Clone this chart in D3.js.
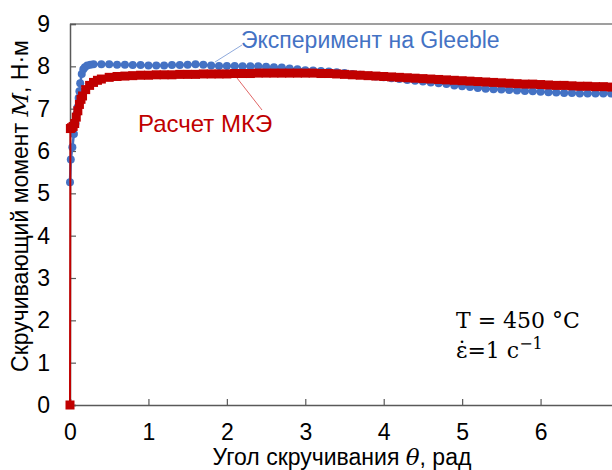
<!DOCTYPE html>
<html>
<head>
<meta charset="utf-8">
<script src="https://cdn.jsdelivr.net/npm/d3@7"></script>
<style>
  html, body { margin: 0; padding: 0; background: #fff; }
  svg { display: block; }
</style>
</head>
<body>
<div id="chart"></div>
<script>
// Torque vs. twist angle: Gleeble experiment and FEM calculation
const expTheta = [0, 0.01, 0.03, 0.05, 0.07, 0.085, 0.095, 0.11, 0.12, 0.13, 0.15, 0.17, 0.19, 0.22, 0.26,
  0.3, 0.4, 0.5, 0.6, 0.7, 0.8, 0.9, 1.0, 1.1, 1.2, 1.3, 1.4, 1.5, 1.6, 1.7, 1.8, 1.9, 2.0,
  2.1, 2.2, 2.3, 2.4, 2.5, 2.6, 2.7, 2.8, 2.9, 3.0, 3.1, 3.2, 3.3, 3.4, 3.5, 3.6, 3.7, 3.8, 3.9, 4.0,
  4.1, 4.2, 4.3, 4.4, 4.5, 4.6, 4.7, 4.8, 4.9, 5.0, 5.1, 5.2, 5.3, 5.4, 5.5, 5.6, 5.7, 5.8, 5.9, 6.0,
  6.1, 6.2, 6.3, 6.4, 6.5, 6.6, 6.7, 6.8, 6.9, 7.0];
const expTorque = [5.26, 5.8, 6.09, 6.4, 6.65, 6.88, 7.03, 7.25, 7.41, 7.6, 7.82, 7.93, 7.98, 8.02, 8.04,
  8.05, 8.05, 8.05, 8.04, 8.04, 8.03, 8.03, 8.02, 8.02, 8.02, 8.03, 8.03, 8.04, 8.05, 8.04, 8.02, 8.01, 8.01,
  8.01, 8.0, 8.0, 8.0, 7.99, 7.98, 7.97, 7.95, 7.93, 7.91, 7.9, 7.89, 7.88, 7.86, 7.84, 7.82, 7.8, 7.78, 7.76, 7.74,
  7.72, 7.7, 7.68, 7.66, 7.64, 7.62, 7.6, 7.58, 7.55, 7.53, 7.51, 7.49, 7.47, 7.46, 7.45, 7.44, 7.43, 7.42, 7.41, 7.4,
  7.39, 7.38, 7.37, 7.37, 7.36, 7.36, 7.36, 7.36, 7.36, 7.36];

const femTheta = [0, 0.005, 0.02, 0.04, 0.06, 0.08, 0.1, 0.12, 0.14, 0.16, 0.2, 0.25, 0.3, 0.35, 0.4,
  0.5, 0.6, 0.7, 0.8, 0.9, 1.0, 1.1, 1.2, 1.3, 1.4, 1.5, 1.6, 1.7, 1.8, 1.9, 2.0,
  2.1, 2.2, 2.3, 2.4, 2.5, 2.6, 2.7, 2.8, 2.9, 3.0, 3.1, 3.2, 3.3, 3.4, 3.5, 3.6, 3.7, 3.8, 3.9, 4.0,
  4.1, 4.2, 4.3, 4.4, 4.5, 4.6, 4.7, 4.8, 4.9, 5.0, 5.1, 5.2, 5.3, 5.4, 5.5, 5.6, 5.7, 5.8, 5.9, 6.0,
  6.1, 6.2, 6.3, 6.4, 6.5, 6.6, 6.7, 6.8, 6.9, 7.0];
const femTorque = [0, 6.53, 6.55, 6.58, 6.65, 6.8, 6.95, 7.1, 7.22, 7.3, 7.45, 7.55, 7.62, 7.67, 7.7,
  7.74, 7.76, 7.77, 7.78, 7.79, 7.79, 7.8, 7.8, 7.8, 7.81, 7.81, 7.81, 7.82, 7.82, 7.82, 7.82,
  7.83, 7.83, 7.83, 7.84, 7.84, 7.84, 7.84, 7.84, 7.84, 7.84, 7.84, 7.83, 7.83, 7.82, 7.81, 7.8, 7.79, 7.78, 7.77, 7.76,
  7.75, 7.74, 7.73, 7.72, 7.71, 7.7, 7.69, 7.68, 7.67, 7.66, 7.65, 7.64, 7.63, 7.62, 7.61, 7.6, 7.59, 7.58, 7.58, 7.57,
  7.56, 7.55, 7.55, 7.54, 7.53, 7.53, 7.52, 7.52, 7.51, 7.5];

const xTicks = [0, 1, 2, 3, 4, 5, 6];
const yTicks = [0, 1, 2, 3, 4, 5, 6, 7, 8, 9];

const W = 612, H = 470;
const plotLeft = 70, plotTop = 24, plotW = 549, plotH = 381;
const sans = "'Liberation Sans', Arial, sans-serif";
const fs = "23px";

const svg = d3.select("#chart").append("svg")
  .attr("width", W).attr("height", H)
  .style("font-family", sans);

const x = d3.scaleLinear().domain([0, 7]).range([plotLeft, plotLeft + plotW]);
const y = d3.scaleLinear().domain([0, 9]).range([plotTop + plotH, plotTop]);

const axisColor = "#595959";

// plot area frame (top and right)
svg.append("line").attr("x1", plotLeft).attr("x2", plotLeft + plotW)
  .attr("y1", plotTop).attr("y2", plotTop)
  .attr("stroke", "#7f7f7f").attr("stroke-width", 1.5);
svg.append("line").attr("x1", plotLeft + plotW).attr("x2", plotLeft + plotW)
  .attr("y1", plotTop).attr("y2", plotTop + plotH)
  .attr("stroke", "#7f7f7f").attr("stroke-width", 1.5);

// axes with inward ticks
const xAxis = svg.append("g").attr("transform", `translate(0,${plotTop + plotH})`)
  .call(d3.axisBottom(x).tickValues(xTicks).tickSize(-6).tickPadding(19).tickFormat(d3.format("d")));
const yAxis = svg.append("g").attr("transform", `translate(${plotLeft},0)`)
  .call(d3.axisLeft(y).tickValues(yTicks).tickSize(-6).tickPadding(20).tickFormat(d3.format("d")));
[xAxis, yAxis].forEach(g => {
  g.select(".domain").attr("stroke", axisColor).attr("stroke-width", 1.5);
  g.selectAll(".tick line").attr("stroke", axisColor).attr("stroke-width", 1.2);
  g.selectAll(".tick text").attr("fill", "#000").style("font-size", fs)
    .style("font-family", sans);
});
xAxis.selectAll(".tick text").attr("dy", "0.71em");

// experimental series
const blue = "#4472C4", red = "#C00000";
const expData = expTheta.map((t, i) => [t, expTorque[i]]);
const femData = femTheta.map((t, i) => [t, femTorque[i]]);
const line = d3.line().x(d => x(d[0])).y(d => y(d[1]));

svg.append("path").datum(expData).attr("d", line)
  .attr("fill", "none").attr("stroke", blue).attr("stroke-width", 2.5);
svg.append("g").selectAll("circle").data(expData).join("circle")
  .attr("cx", d => x(d[0])).attr("cy", d => y(d[1])).attr("r", 4)
  .attr("fill", blue);

// FEM series
svg.append("path").datum(femData).attr("d", line)
  .attr("fill", "none").attr("stroke", red).attr("stroke-width", 2);
const sq = 9;
svg.append("g").selectAll("rect").data(femData).join("rect")
  .attr("x", d => x(d[0]) - sq / 2).attr("y", d => y(d[1]) - sq / 2)
  .attr("width", sq).attr("height", sq).attr("fill", red);

// series callouts
svg.append("line").attr("x1", 242).attr("y1", 45).attr("x2", 215).attr("y2", 62)
  .attr("stroke", "#8faadc").attr("stroke-width", 1);
svg.append("text").attr("x", 241).attr("y", 48)
  .attr("fill", blue).style("font-size", fs)
  .text("Эксперимент на Gleeble");

svg.append("line").attr("x1", 237).attr("y1", 78).attr("x2", 262).attr("y2", 110)
  .attr("stroke", "#e06666").attr("stroke-width", 1);
svg.append("text").attr("x", 138).attr("y", 132)
  .attr("fill", red).style("font-size", "24px")
  .text("Расчет МКЭ");

// test conditions
const cond = svg.append("g").style("font-family", "'DejaVu Serif', 'Liberation Serif', serif")
  .style("font-size", "22px").attr("fill", "#000");
cond.append("text").attr("x", 456).attr("y", 328).text("T = 450 °C");
const rate = cond.append("text").attr("x", 456).attr("y", 358);
rate.append("tspan").text("ε̇=1 c");
rate.append("tspan").attr("dy", -9).style("font-size", "16px").text("−1");

// axis titles
const xt = svg.append("text").attr("x", 342).attr("y", 465).attr("text-anchor", "middle")
  .style("font-size", fs).attr("fill", "#000");
xt.append("tspan").text("Угол скручивания ");
xt.append("tspan").style("font-style", "italic").style("font-family", "'DejaVu Serif', serif").text("θ");
xt.append("tspan").text(", рад");

const yt = svg.append("text").attr("transform", "translate(28,206) rotate(-90)")
  .attr("text-anchor", "middle").style("font-size", fs).attr("fill", "#000");
yt.append("tspan").text("Скручивающий момент ");
yt.append("tspan").style("font-style", "italic").style("font-family", "'DejaVu Serif', serif").text("M");
yt.append("tspan").text(", Н·м");
</script>
</body>
</html>
